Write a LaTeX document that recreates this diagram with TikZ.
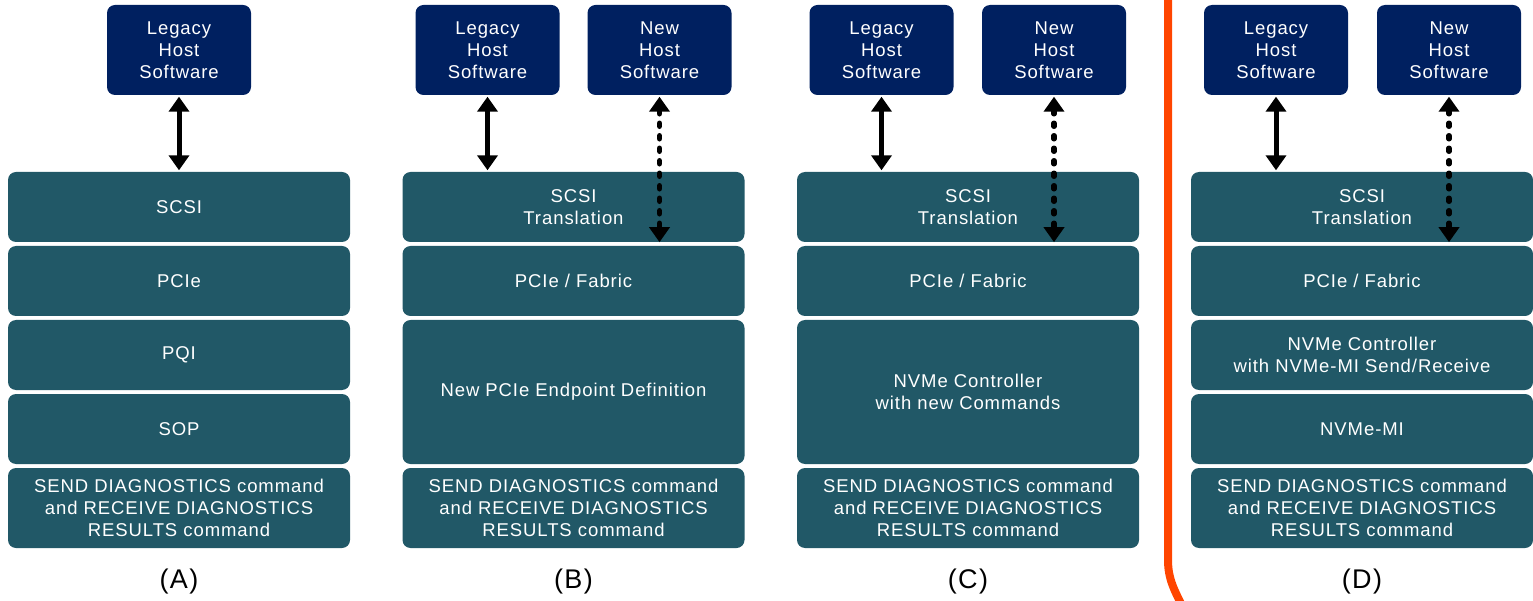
\documentclass[tikz,border=0pt]{standalone}
\usepackage{fontspec}
\setmainfont[LetterSpace=5]{Liberation Sans}
\usetikzlibrary{arrows.meta}
\definecolor{hostblue}{RGB}{0,32,96}
\definecolor{layerteal}{RGB}{33,88,103}
\definecolor{divider}{RGB}{255,69,0}
\tikzset{
  host/.style={fill=hostblue, rounded corners=8pt, text=white, align=center,
    minimum width=144pt, minimum height=90pt, inner sep=0pt,
    font=\fontsize{18.5}{22}\selectfont},
  layer/.style={fill=layerteal, rounded corners=8pt, text=white, align=center,
    minimum width=342pt, inner sep=0pt, font=\fontsize{18.5}{22}\selectfont},
  short/.style={layer, minimum height=70pt},
  tall/.style={layer, minimum height=144pt},
  cmd/.style={layer, minimum height=80pt},
  caption/.style={font=\fontsize{27}{30}\selectfont, inner sep=0pt},
  link/.style={line width=5pt, {Triangle[width=20pt,length=15pt]}-{Triangle[width=20pt,length=15pt]}, shorten <=1.5pt, shorten >=1.5pt},
  newlink/.style={line width=5.5pt, line cap=round, dash pattern=on 3pt off 9.5pt,
    {Triangle[width=20pt,length=15pt]}-{Triangle[width=20pt,length=15pt]}, shorten <=1.5pt}
}
\begin{document}
\begin{tikzpicture}[x=1pt,y=-1pt]
\useasboundingbox (0,0) rectangle (1533,601);

% ---- (A) SCSI over PQI ----
\node[host] (legA) at (179,50) {Legacy\\Host\\Software};
\node[short] (scsiA) at (179,207) {SCSI};
\node[short] (pcieA) at (179,281) {PCIe};
\node[short] (pqiA) at (179,355) {PQI};
\node[short] (sopA) at (179,429) {SOP};
\node[cmd] (cmdA) at (179,508) {SEND DIAGNOSTICS command\\and RECEIVE DIAGNOSTICS\\RESULTS command};
\node[caption] (capA) at (179,582) {(A)};
\draw[link] (legA.south) -- (scsiA.north);

% ---- (B) new PCIe endpoint ----
\node[host] (legB) at (487.5,50) {Legacy\\Host\\Software};
\node[host] (newB) at (659.5,50) {New\\Host\\Software};
\node[short] (scsiB) at (573.5,207) {SCSI\\Translation};
\node[short] (pcieB) at (573.5,281) {PCIe / Fabric};
\node[tall] (epB) at (573.5,392) {New PCIe Endpoint Definition};
\node[cmd] (cmdB) at (573.5,508) {SEND DIAGNOSTICS command\\and RECEIVE DIAGNOSTICS\\RESULTS command};
\node[caption] (capB) at (573.5,582) {(B)};
\draw[link] (legB.south) -- (legB.south |- scsiB.north);
\draw[newlink] (newB.south) -- (newB.south |- scsiB.south);

% ---- (C) NVMe controller with new commands ----
\node[host] (legC) at (881.5,50) {Legacy\\Host\\Software};
\node[host] (newC) at (1054,50) {New\\Host\\Software};
\node[short] (scsiC) at (968,207) {SCSI\\Translation};
\node[short] (pcieC) at (968,281) {PCIe / Fabric};
\node[tall] (ctrlC) at (968,392) {NVMe Controller\\with new Commands};
\node[cmd] (cmdC) at (968,508) {SEND DIAGNOSTICS command\\and RECEIVE DIAGNOSTICS\\RESULTS command};
\node[caption] (capC) at (968,582) {(C)};
\draw[link] (legC.south) -- (legC.south |- scsiC.north);
\draw[newlink] (newC.south) -- (newC.south |- scsiC.south);

% divider before the chosen option
\draw[divider, line width=8pt] (1168,-6) -- (1168,560) to[out=-90, in=115] (1184,610);

% ---- (D) NVMe-MI Send/Receive ----
\node[host] (legD) at (1276,50) {Legacy\\Host\\Software};
\node[host] (newD) at (1449,50) {New\\Host\\Software};
\node[short] (scsiD) at (1362,207) {SCSI\\Translation};
\node[short] (pcieD) at (1362,281) {PCIe / Fabric};
\node[short] (ctrlD) at (1362,355) {NVMe Controller\\with NVMe-MI Send/Receive};
\node[short] (miD) at (1362,429) {NVMe-MI};
\node[cmd] (cmdD) at (1362,508) {SEND DIAGNOSTICS command\\and RECEIVE DIAGNOSTICS\\RESULTS command};
\node[caption] (capD) at (1362,582) {(D)};
\draw[link] (legD.south) -- (legD.south |- scsiD.north);
\draw[newlink] (newD.south) -- (newD.south |- scsiD.south);
\end{tikzpicture}
\end{document}
